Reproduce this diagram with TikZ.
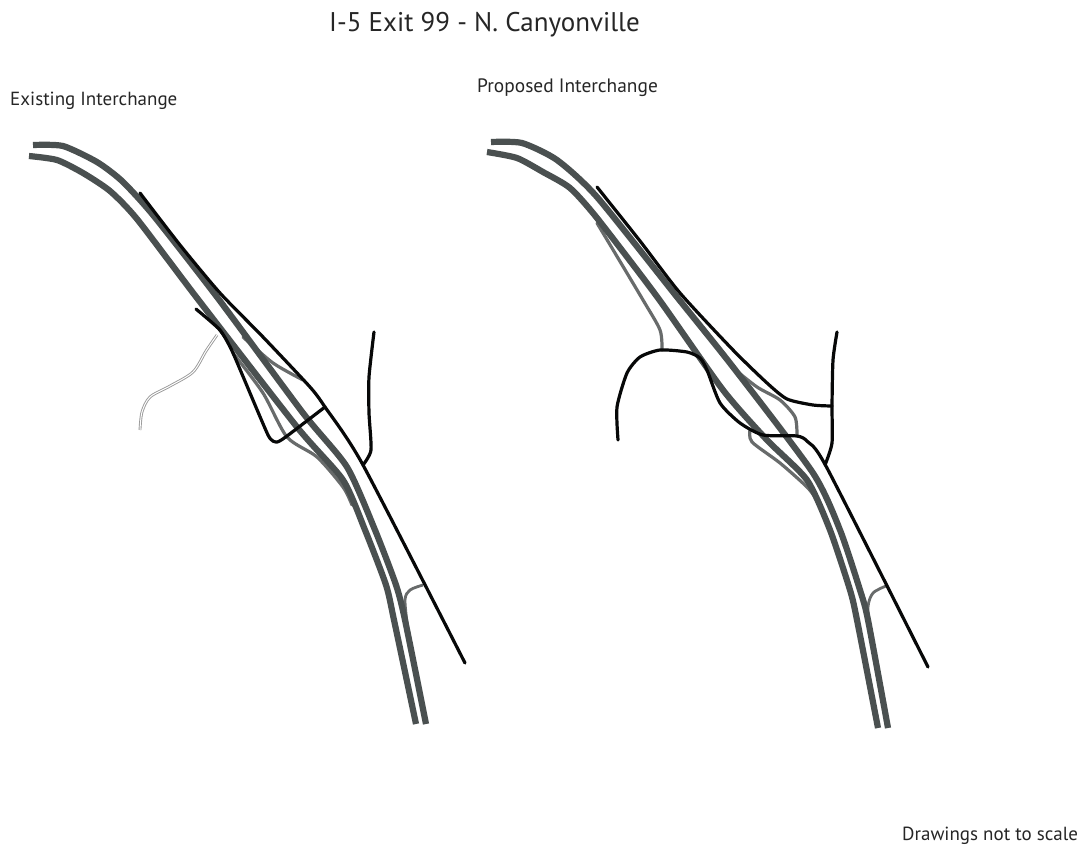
\documentclass[tikz,border=0pt]{standalone}
\usepackage{fontspec}
\setmainfont{PT Sans}
\definecolor{mainc}{HTML}{4A5050}
\definecolor{rampc}{HTML}{686B6B}
\tikzset{
  x=1pt,y=-1pt,
  mainroad/.style={draw=mainc,line width=6.2pt,smooth,tension=0.4},
  ramproad/.style={draw=rampc,line width=3.2pt,smooth,tension=0.45,line cap=round},
  localroad/.style={draw=black!90!mainc,line width=3.2pt,smooth,tension=0.4,line cap=round,line join=round},
  lab/.style={inner sep=0pt,anchor=base west,text=black!85},
}
\begin{document}
\begin{tikzpicture}
\useasboundingbox (0,0) rectangle (1086,846);
\fill[white] (0,0) rectangle (1086,846);
% titles
\node[lab,font=\fontsize{27}{30}\selectfont] (title) at (329,31) {I-5 Exit 99 - N. Canyonville};
\node[lab,font=\fontsize{19}{22}\selectfont] (ex) at (10,105) {Existing Interchange};
\node[lab,font=\fontsize{19.4}{22}\selectfont] (pr) at (477,92) {Proposed Interchange};
\node[lab,font=\fontsize{19}{22}\selectfont] (ns) at (902,840) {Drawings not to scale};
% ---------- existing ----------
\draw[draw=black!40,line width=2.8pt,smooth,tension=0.5] plot coordinates {(217,335) (206,351) (193,372) (170,386) (150,397) (142,412) (140,430)};
\draw[draw=white,line width=1pt,smooth,tension=0.5] plot coordinates {(217,335) (206,351) (193,372) (170,386) (150,397) (142,412) (140,430)};
% ramps
\draw[ramproad] plot coordinates {(243,337) (273,363) (303,380)};
\draw[ramproad] plot coordinates {(233,353) (263,393) (287,437) (317,457) (343,487) (352,505)};
\draw[draw=rampc,line width=2.8pt,smooth,tension=0.5] plot coordinates {(423,585) (410,590) (405,600) (408,630)};
% mainline
\draw[mainroad] plot coordinates {(33,145) (63,146) (97,162) (122,181) (153,215) (217,297) (303,413) (347,467) (375,530) (396,585) (405,620) (426,724)};
\draw[mainroad] plot coordinates {(29,156) (57,160) (83,173) (110,191) (137,219) (197,298) (297,427) (343,480) (365,530) (386,585) (394,620) (416,724)};
% local
\draw[localroad] plot coordinates {(140,193) (180,245) (220,293) (263,337) (310,387) (325,407) (363,465) (465,663)};
\draw[localroad,tension=0.3] plot coordinates {(325,407) (287,436) (277,442) (268,435) (233,353) (220,330) (196,309)};
\draw[localroad] plot coordinates {(374,332) (369,377) (369,413) (371,450) (363,465)};
% ---------- proposed ----------
\draw[ramproad] plot coordinates {(597,223) (643,300) (660,330) (662,350)};
\draw[ramproad] plot coordinates {(733,368) (757,387) (780,400) (795,417) (797,435)};
\draw[ramproad] plot coordinates {(750,430) (752,442) (780,463) (807,487) (817,500)};
\draw[draw=rampc,line width=2.8pt,smooth,tension=0.5] plot coordinates {(886,586) (873,593) (868,607) (870,633)};
\draw[mainroad] plot coordinates {(491,142) (522,143) (557,160) (597,197) (677,297) (733,367) (813,473) (840,530) (860,590) (868,620) (888,728)};
\draw[mainroad] plot coordinates {(487,152) (517,158) (543,172) (570,188) (597,218) (658,298) (723,390) (767,440) (807,480) (830,530) (850,590) (857,620) (878,728)};
\draw[localroad] plot coordinates {(597,187) (640,241) (680,293) (733,350) (767,383) (787,399) (813,405) (832,406)};
\draw[localroad] plot coordinates {(618,440) (617,407) (627,373) (640,357) (660,350) (687,352) (700,358) (707,370) (720,403) (740,423) (763,435) (797,436) (808,442) (827,468) (928,667)};
\draw[localroad] plot coordinates {(837,332) (833,360) (832,406) (832,443) (825,465)};
\end{tikzpicture}
\end{document}
